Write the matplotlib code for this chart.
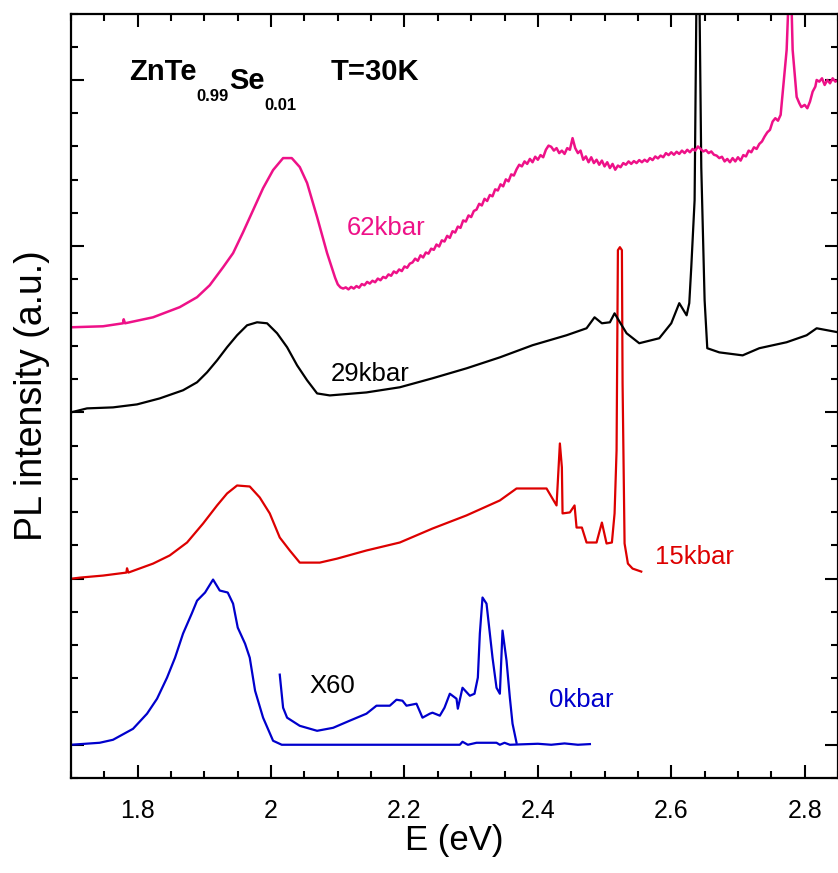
import matplotlib
matplotlib.use("Agg")
import matplotlib.pyplot as plt
from matplotlib.ticker import MultipleLocator, FormatStrFormatter, NullFormatter

plt.rcParams['font.family'] = ['Liberation Sans', 'DejaVu Sans']

# ---- data (E in eV, PL intensity in arbitrary units, curves vertically offset) ----
e_0kbar = [1.700, 1.743, 1.763, 1.793, 1.814, 1.829, 1.844, 1.856, 1.868, 1.881, 1.889,
           1.901, 1.913, 1.923, 1.935, 1.943, 1.950, 1.961, 1.968, 1.976, 1.988, 2.003,
           2.016, 2.283, 2.287, 2.295, 2.308, 2.338, 2.343, 2.350, 2.358, 2.400, 2.420,
           2.440, 2.460, 2.478]
i_0kbar = [0.000, 0.012, 0.030, 0.096, 0.187, 0.277, 0.404, 0.524, 0.669, 0.789, 0.867,
           0.916, 0.994, 0.928, 0.916, 0.849, 0.705, 0.608, 0.524, 0.325, 0.163, 0.024,
           0.000, 0.000, 0.018, 0.000, 0.012, 0.012, 0.000, 0.012, 0.000, 0.006, 0.000,
           0.008, 0.000, 0.004]

e_x60 = [2.013, 2.018, 2.024, 2.043, 2.069, 2.093, 2.118, 2.143, 2.158, 2.178, 2.188,
         2.197, 2.203, 2.218, 2.227, 2.238, 2.242, 2.253, 2.260, 2.268, 2.278, 2.280,
         2.287, 2.298, 2.305, 2.310, 2.313, 2.317, 2.323, 2.328, 2.332, 2.338, 2.343,
         2.347, 2.353, 2.358, 2.362, 2.368]
i_x60 = [0.422, 0.223, 0.163, 0.114, 0.084, 0.102, 0.145, 0.187, 0.235, 0.235, 0.271,
         0.265, 0.235, 0.247, 0.163, 0.187, 0.193, 0.175, 0.223, 0.307, 0.277, 0.217,
         0.343, 0.295, 0.307, 0.404, 0.669, 0.886, 0.849, 0.669, 0.524, 0.343, 0.307,
         0.687, 0.506, 0.283, 0.127, 0.012]

e_15kbar = [1.702, 1.714, 1.748, 1.783, 1.784, 1.786, 1.823, 1.848, 1.874, 1.898, 1.919,
            1.934, 1.949, 1.968, 1.983, 1.998, 2.013, 2.028, 2.043, 2.073, 2.099, 2.143,
            2.193, 2.242, 2.293, 2.343, 2.368, 2.413, 2.428, 2.433, 2.436, 2.437, 2.448,
            2.455, 2.458, 2.466, 2.473, 2.488, 2.496, 2.503, 2.511, 2.515, 2.518, 2.520,
            2.523, 2.526, 2.527, 2.530, 2.535, 2.542, 2.555]
i_15kbar = [1.000, 1.006, 1.018, 1.036, 1.062, 1.036, 1.090, 1.139, 1.217, 1.331, 1.440,
            1.512, 1.560, 1.554, 1.488, 1.392, 1.247, 1.169, 1.096, 1.096, 1.120, 1.169,
            1.217, 1.301, 1.380, 1.470, 1.542, 1.542, 1.440, 1.813, 1.669, 1.392, 1.398,
            1.440, 1.307, 1.307, 1.217, 1.217, 1.337, 1.211, 1.217, 1.392, 1.771, 2.976,
            2.994, 2.976, 2.175, 1.211, 1.090, 1.060, 1.042]

e_29kbar = [1.700, 1.724, 1.763, 1.799, 1.833, 1.868, 1.889, 1.904, 1.919, 1.934, 1.949,
            1.964, 1.979, 1.994, 2.009, 2.024, 2.039, 2.054, 2.069, 2.088, 2.143, 2.193,
            2.242, 2.293, 2.343, 2.392, 2.443, 2.473, 2.485, 2.496, 2.508, 2.515, 2.523,
            2.533, 2.552, 2.582, 2.600, 2.612, 2.623, 2.627, 2.630, 2.635, 2.638, 2.642,
            2.645, 2.650, 2.654, 2.672, 2.707, 2.732, 2.773, 2.803, 2.818, 2.850]
i_29kbar = [2.000, 2.024, 2.030, 2.048, 2.084, 2.133, 2.181, 2.241, 2.313, 2.392, 2.464,
            2.524, 2.542, 2.536, 2.476, 2.392, 2.283, 2.193, 2.114, 2.102, 2.120, 2.151,
            2.205, 2.265, 2.331, 2.404, 2.464, 2.506, 2.572, 2.536, 2.542, 2.596, 2.542,
            2.476, 2.416, 2.446, 2.536, 2.657, 2.584, 2.657, 2.873, 3.277, 4.600, 4.600,
            3.476, 2.675, 2.386, 2.361, 2.343, 2.386, 2.422, 2.464, 2.506, 2.482]

e_62kbar = [1.700, 1.748, 1.778, 1.779, 1.781, 1.823, 1.863, 1.889, 1.908, 1.928, 1.943,
            1.958, 1.973, 1.988, 2.003, 2.018, 2.031, 2.043, 2.054, 2.069, 2.084, 2.096,
            2.100, 2.104, 2.108, 2.112, 2.116, 2.120, 2.124, 2.128, 2.132, 2.136, 2.140,
            2.144, 2.148, 2.152, 2.156, 2.160, 2.164, 2.168, 2.172, 2.176, 2.180, 2.184,
            2.188, 2.192, 2.196, 2.200, 2.204, 2.208, 2.212, 2.216, 2.220, 2.224, 2.228,
            2.232, 2.236, 2.240, 2.244, 2.248, 2.252, 2.256, 2.260, 2.264, 2.268, 2.272,
            2.276, 2.280, 2.284, 2.288, 2.292, 2.296, 2.300, 2.304, 2.308, 2.312, 2.316,
            2.320, 2.324, 2.328, 2.332, 2.336, 2.340, 2.344, 2.348, 2.352, 2.356, 2.360,
            2.364, 2.368, 2.372, 2.376, 2.380, 2.384, 2.388, 2.392, 2.396, 2.400, 2.404,
            2.408, 2.412, 2.416, 2.420, 2.424, 2.428, 2.432, 2.436, 2.440, 2.444, 2.448,
            2.452, 2.456, 2.460, 2.464, 2.468, 2.472, 2.476, 2.480, 2.484, 2.488, 2.492,
            2.496, 2.500, 2.504, 2.508, 2.512, 2.516, 2.520, 2.524, 2.528, 2.532, 2.536,
            2.540, 2.544, 2.548, 2.552, 2.556, 2.560, 2.564, 2.568, 2.572, 2.576, 2.580,
            2.584, 2.588, 2.592, 2.596, 2.600, 2.604, 2.608, 2.612, 2.616, 2.620, 2.624,
            2.628, 2.632, 2.636, 2.640, 2.644, 2.648, 2.652, 2.656, 2.660, 2.664, 2.668,
            2.672, 2.676, 2.680, 2.684, 2.688, 2.692, 2.696, 2.700, 2.704, 2.708, 2.712,
            2.716, 2.720, 2.724, 2.728, 2.732, 2.736, 2.740, 2.744, 2.748, 2.752, 2.756,
            2.760, 2.764, 2.767, 2.773, 2.776, 2.780, 2.782, 2.788, 2.792, 2.795, 2.800,
            2.804, 2.808, 2.812, 2.816, 2.818, 2.822, 2.826, 2.830, 2.834, 2.838, 2.842,
            2.846, 2.850]
i_62kbar = [2.512, 2.518, 2.536, 2.560, 2.536, 2.572, 2.633, 2.693, 2.765, 2.873, 2.958,
            3.084, 3.217, 3.349, 3.458, 3.530, 3.530, 3.476, 3.380, 3.175, 2.958, 2.810,
            2.770, 2.752, 2.745, 2.752, 2.740, 2.755, 2.745, 2.760, 2.750, 2.772, 2.765,
            2.785, 2.775, 2.792, 2.783, 2.805, 2.795, 2.815, 2.808, 2.830, 2.822, 2.848,
            2.838, 2.860, 2.850, 2.878, 2.870, 2.895, 2.902, 2.925, 2.912, 2.945, 2.932,
            2.962, 2.955, 2.985, 2.978, 3.010, 2.998, 3.035, 3.028, 3.062, 3.050, 3.090,
            3.082, 3.118, 3.110, 3.155, 3.148, 3.185, 3.175, 3.212, 3.220, 3.255, 3.245,
            3.285, 3.272, 3.308, 3.300, 3.342, 3.335, 3.372, 3.360, 3.402, 3.390, 3.432,
            3.425, 3.462, 3.490, 3.480, 3.510, 3.495, 3.525, 3.505, 3.538, 3.520, 3.548,
            3.535, 3.580, 3.605, 3.598, 3.575, 3.590, 3.560, 3.575, 3.555, 3.590, 3.580,
            3.650, 3.590, 3.560, 3.575, 3.520, 3.540, 3.505, 3.535, 3.500, 3.520, 3.490,
            3.515, 3.480, 3.505, 3.470, 3.495, 3.460, 3.485, 3.475, 3.500, 3.490, 3.510,
            3.495, 3.512, 3.500, 3.518, 3.505, 3.520, 3.508, 3.530, 3.518, 3.540, 3.528,
            3.545, 3.535, 3.560, 3.548, 3.565, 3.550, 3.568, 3.555, 3.575, 3.560, 3.580,
            3.565, 3.585, 3.575, 3.600, 3.585, 3.570, 3.578, 3.560, 3.570, 3.550, 3.545,
            3.530, 3.538, 3.510, 3.525, 3.505, 3.530, 3.510, 3.535, 3.515, 3.548, 3.540,
            3.575, 3.565, 3.595, 3.585, 3.615, 3.630, 3.660, 3.685, 3.700, 3.750, 3.770,
            3.755, 3.790, 3.922, 4.181, 4.500, 4.500, 4.181, 3.898, 3.860, 3.837, 3.850,
            3.830, 3.870, 3.930, 3.960, 4.000, 3.990, 4.010, 3.970, 4.000, 3.980, 4.010,
            3.990, 4.000]

labels = ["62kbar", "29kbar", "15kbar", "0kbar", "X60"]
label_pos = [(2.113, 3.11), (2.0895, 2.23), (2.576, 1.13), (2.416, 0.27), (2.058, 0.355)]

C_PINK = "#EE1188"
C_RED = "#DD0000"
C_BLUE = "#0000CC"
C_BLACK = "#000000"

fig = plt.figure(figsize=(8.38, 8.73), dpi=100)
ax = fig.add_axes([71/838, 1-778/873, (838-71)/838, (778-13.5)/873])

lw = 1.6
ax.plot(e_0kbar, i_0kbar, color=C_BLUE, lw=lw)
ax.plot(e_x60, i_x60, color=C_BLUE, lw=lw)
ax.plot(e_15kbar, i_15kbar, color=C_RED, lw=lw)
ax.plot(e_29kbar, i_29kbar, color=C_BLACK, lw=lw)
ax.plot(e_62kbar, i_62kbar, color=C_PINK, lw=1.8)

label_colors = [C_PINK, C_BLACK, C_RED, C_BLUE, C_BLACK]
for txt, (x, y), c in zip(labels, label_pos, label_colors):
    ax.text(x, y, txt, color=c, fontsize=18.5, ha='left', va='center')

t1 = ax.text(1.787, 4.0, "ZnTe", fontsize=21, fontweight='bold', ha='left', va='baseline')
t2 = ax.annotate("0.99", xy=(1, 0), xycoords=t1, xytext=(0, -11), textcoords='offset points',
                 fontsize=12, fontweight='bold', ha='left', va='baseline')
t3 = ax.annotate("Se", xy=(1, 0), xycoords=t2, xytext=(0, 11), textcoords='offset points',
                 fontsize=21, fontweight='bold', ha='left', va='baseline')
t4 = ax.annotate("0.01", xy=(1, 0), xycoords=t3, xytext=(0, -11), textcoords='offset points',
                 fontsize=12, fontweight='bold', ha='left', va='baseline')
ax.text(2.089, 4.0, "T=30K", fontsize=21, fontweight='bold', ha='left', va='baseline')

ax.set_xlim(1.7, 2.85)
ax.set_ylim(-0.2, 4.4)
ax.xaxis.set_major_locator(MultipleLocator(0.2))
ax.xaxis.set_minor_locator(MultipleLocator(0.05))
ax.xaxis.set_major_formatter(FormatStrFormatter('%g'))
ax.yaxis.set_major_locator(MultipleLocator(1.0))
ax.yaxis.set_minor_locator(MultipleLocator(0.2))
ax.yaxis.set_major_formatter(NullFormatter())
ax.tick_params(which='both', direction='in', top=True, right=True, width=1.5)
ax.tick_params(which='major', length=9.5, labelsize=18, pad=15)
ax.tick_params(which='minor', length=5)
for s in ax.spines.values():
    s.set_linewidth(1.6)

ax.set_xlabel("E (eV)", fontsize=25, labelpad=1)
ax.set_ylabel("PL intensity (a.u.)", fontsize=27, labelpad=0)

fig.savefig("out.png", dpi=100)
